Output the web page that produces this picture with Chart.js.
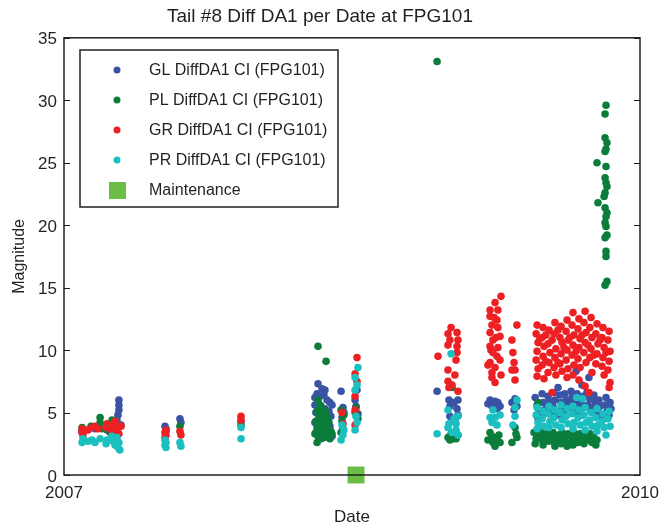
<!DOCTYPE html>
<html>
<head>
<meta charset="utf-8">
<script src="https://cdn.jsdelivr.net/npm/chart.js@4/dist/chart.umd.min.js"></script>
<style>
  body { margin: 0; background: #fff; }
  canvas { display: block; }
</style>
</head>
<body>
<canvas id="chart" width="662" height="531"></canvas>
<script>
// tick labels on the date axis
const xTicks = [2007, 2010];
const seriesNames = ['GL DiffDA1 CI (FPG101)', 'PL DiffDA1 CI (FPG101)', 'GR DiffDA1 CI (FPG101)', 'PR DiffDA1 CI (FPG101)', 'Maintenance'];

// [date as decimal year, magnitude]
const glPoints = [
  [2007.094,3.5],[2007.161,3.7],[2007.224,3.6],[2007.266,4.2],[2007.286,6.0],[2007.286,5.6],[2007.286,5.2],[2007.281,4.8],[2007.276,4.4],[2007.297,4.0],[2007.250,3.9],
  [2007.526,3.9],[2007.531,3.7],[2007.604,4.5],[2007.609,4.2],
  [2007.922,4.3],
  [2008.323,7.3],[2008.359,6.8],[2008.344,6.9],[2008.307,6.2],[2008.318,6.5],[2008.333,6.3],[2008.354,6.4],[2008.370,6.0],[2008.385,5.8],[2008.307,5.6],
  [2008.323,5.8],[2008.339,5.5],[2008.359,5.3],[2008.380,5.1],[2008.396,5.6],[2008.312,5.0],[2008.328,4.8],[2008.349,4.6],[2008.370,4.4],[2008.390,4.7],
  [2008.307,4.2],[2008.323,4.0],[2008.344,3.8],[2008.365,3.6],[2008.385,3.9],[2008.312,3.4],[2008.333,3.2],[2008.354,3.0],[2008.375,3.3],[2008.396,3.1],
  [2008.443,6.7],[2008.453,5.4],[2008.458,5.0],[2008.448,4.6],
  [2008.526,6.8],[2008.516,6.0],[2008.521,5.5],[2008.531,4.9],
  [2008.943,6.7],[2009.005,6.0],[2009.052,6.0],[2009.010,5.5],[2009.047,5.3],[2009.010,4.7],[2009.052,4.8],[2009.031,5.8],[2009.036,4.4],
  [2009.219,6.0],[2009.260,5.8],[2009.229,5.5],[2009.255,5.3],[2009.245,5.9],[2009.208,5.7],[2009.271,5.5],
  [2009.333,5.8],[2009.349,6.1],[2009.359,5.5],[2009.344,5.2],
  [2009.454,6.2],[2009.464,5.6],[2009.474,5.0],[2009.469,4.5],[2009.490,6.5],[2009.495,5.8],[2009.500,5.2],[2009.490,4.7],
  [2009.521,6.3],[2009.526,5.9],[2009.516,5.4],[2009.531,4.9],[2009.552,6.6],[2009.557,6.0],[2009.547,5.5],[2009.562,5.0],[2009.573,7.0],
  [2009.583,6.4],[2009.589,5.8],[2009.594,5.3],[2009.578,4.8],[2009.609,6.5],[2009.615,6.0],[2009.620,5.6],[2009.604,5.1],
  [2009.641,6.7],[2009.646,6.2],[2009.635,5.7],[2009.651,5.2],[2009.667,8.3],[2009.672,6.5],[2009.662,6.0],[2009.677,5.5],[2009.667,5.0],
  [2009.698,7.2],[2009.703,6.3],[2009.693,5.8],[2009.708,5.4],[2009.698,4.8],[2009.734,7.8],[2009.724,6.6],[2009.739,6.1],[2009.729,5.6],[2009.744,5.1],
  [2009.760,6.4],[2009.765,5.9],[2009.755,5.4],[2009.770,4.9],[2009.786,6.0],[2009.792,5.5],[2009.781,5.0],[2009.797,4.6],
  [2009.823,6.2],[2009.818,5.6],[2009.828,5.1],[2009.813,4.7],[2009.844,5.8],[2009.849,5.3],[2009.839,4.8]
];

const plPoints = [
  [2007.094,3.8],[2007.109,3.6],[2007.141,3.9],[2007.188,4.6],[2007.188,4.2],[2007.198,3.7],[2007.250,4.4],[2007.255,4.0],[2007.266,3.6],[2007.281,3.3],[2007.240,3.4],
  [2007.531,3.5],[2007.604,3.9],
  [2007.922,4.0],
  [2008.323,10.3],[2008.365,9.1],
  [2008.323,6.0],[2008.333,5.6],[2008.349,5.3],[2008.318,5.1],[2008.344,4.9],[2008.365,5.0],[2008.328,4.6],[2008.354,4.4],[2008.375,4.6],[2008.312,4.3],
  [2008.339,4.1],[2008.359,4.0],[2008.380,4.2],[2008.318,3.8],[2008.333,3.6],[2008.349,3.4],[2008.370,3.7],[2008.390,3.5],[2008.307,3.3],[2008.323,3.1],
  [2008.339,2.9],[2008.354,3.0],[2008.375,3.1],[2008.396,3.3],[2008.318,2.6],[2008.344,3.5],[2008.365,3.3],[2008.385,2.9],
  [2008.443,5.2],[2008.458,4.8],[2008.448,4.3],[2008.453,3.7],[2008.443,3.4],
  [2008.521,5.4],[2008.531,4.5],[2008.516,5.0],
  [2008.943,33.1],
  [2009.021,7.0],[2009.000,3.0],[2009.026,2.9],[2009.010,2.8],[2009.052,3.2],[2009.042,2.9],[2009.016,3.3],
  [2009.219,3.4],[2009.255,3.0],[2009.234,2.6],[2009.271,2.6],[2009.245,2.3],[2009.208,2.8],[2009.265,3.2],[2009.229,3.1],[2009.245,2.7],
  [2009.349,3.8],[2009.359,3.0],[2009.333,2.6],[2009.354,3.3],
  [2009.469,5.8],
  [2009.448,3.4],[2009.459,2.9],[2009.454,2.5],[2009.469,3.2],[2009.485,3.5],[2009.490,2.8],[2009.500,3.1],[2009.495,2.4],
  [2009.516,3.3],[2009.521,2.7],[2009.531,3.0],[2009.547,3.4],[2009.552,2.6],[2009.562,3.0],[2009.557,2.3],
  [2009.578,3.2],[2009.583,2.8],[2009.594,3.4],[2009.589,2.5],[2009.609,3.0],[2009.615,2.6],[2009.625,3.3],[2009.620,2.3],
  [2009.641,3.1],[2009.646,2.7],[2009.656,3.4],[2009.651,2.4],[2009.672,3.0],[2009.677,2.6],[2009.688,3.3],
  [2009.703,2.9],[2009.708,2.5],[2009.719,3.2],[2009.734,2.8],[2009.739,3.3],[2009.750,2.6],[2009.760,3.0],[2009.770,2.4],[2009.776,2.8],
  [2009.823,29.6],[2009.818,28.9],[2009.818,27.0],[2009.828,26.6],[2009.823,26.1],[2009.818,25.9],[2009.776,25.0],[2009.823,24.7],
  [2009.818,23.8],[2009.823,23.4],[2009.828,23.1],[2009.818,22.6],[2009.813,22.3],[2009.781,21.8],[2009.818,21.4],[2009.828,21.0],
  [2009.823,20.7],[2009.818,20.2],[2009.823,19.9],[2009.828,19.2],[2009.818,19.0],[2009.823,17.9],[2009.823,17.5],[2009.828,15.5],[2009.818,15.2]
];

const grPoints = [
  [2007.094,3.7],[2007.094,3.4],[2007.099,3.2],[2007.125,3.6],[2007.146,3.8],[2007.161,3.9],[2007.177,3.7],[2007.224,4.1],[2007.219,3.8],
  [2007.250,3.5],[2007.255,4.0],[2007.266,4.3],[2007.276,3.7],[2007.286,3.3],[2007.297,3.9],[2007.260,3.2],
  [2007.531,3.6],[2007.526,3.4],[2007.531,3.2],[2007.526,3.0],[2007.604,3.5],[2007.609,3.2],
  [2007.922,4.7],[2007.922,4.4],
  [2008.448,5.0],[2008.453,4.1],
  [2008.526,9.4],[2008.516,8.1],[2008.526,7.5],[2008.516,6.3],[2008.516,5.2],[2008.516,4.0],
  [2008.948,9.5],
  [2009.016,11.8],[2009.000,11.3],[2009.047,11.4],[2009.010,10.8],[2009.052,10.8],[2009.000,10.4],[2009.047,10.3],[2009.047,9.8],
  [2009.042,9.2],[2009.000,8.4],[2009.036,8.0],[2009.000,7.5],[2009.021,7.2],[2009.052,6.7],[2009.005,7.0],
  [2009.276,14.3],[2009.245,13.8],[2009.219,13.2],[2009.260,13.2],[2009.219,12.7],[2009.255,12.4],[2009.229,12.0],[2009.260,11.8],
  [2009.219,11.4],[2009.271,11.1],[2009.234,10.8],[2009.219,10.3],[2009.260,10.2],[2009.234,9.8],[2009.271,9.2],[2009.219,9.0],
  [2009.245,8.6],[2009.229,8.2],[2009.276,8.0],[2009.229,7.8],[2009.240,12.6],[2009.250,11.0],[2009.224,10.0],[2009.255,9.5],[2009.208,8.8],[2009.245,7.4],
  [2009.359,12.0],[2009.333,10.8],[2009.338,9.8],[2009.349,8.4],[2009.333,8.4],[2009.349,7.6],[2009.344,9.0],
  [2009.464,12.0],[2009.459,11.3],[2009.469,10.6],[2009.464,9.9],[2009.459,9.2],[2009.469,8.5],[2009.464,7.9],
  [2009.495,11.8],[2009.490,11.0],[2009.500,10.3],[2009.495,9.5],[2009.490,8.8],[2009.500,7.7],
  [2009.526,11.6],[2009.521,10.5],[2009.531,9.8],[2009.526,9.0],[2009.521,8.2],[2009.542,6.6],
  [2009.557,12.2],[2009.552,11.3],[2009.562,10.1],[2009.557,9.4],[2009.552,8.6],[2009.562,8.0],
  [2009.589,11.9],[2009.583,11.0],[2009.594,10.6],[2009.589,9.7],[2009.583,8.9],[2009.594,8.3],
  [2009.620,12.4],[2009.615,11.5],[2009.625,10.8],[2009.620,10.0],[2009.615,9.2],[2009.625,8.5],[2009.620,7.8],
  [2009.651,13.0],[2009.646,12.0],[2009.656,11.2],[2009.651,10.4],[2009.646,9.6],[2009.656,8.8],[2009.651,8.0],
  [2009.682,12.5],[2009.677,11.7],[2009.688,10.9],[2009.682,10.2],[2009.677,9.3],[2009.688,8.6],[2009.682,7.6],
  [2009.714,13.1],[2009.708,12.2],[2009.719,11.4],[2009.714,10.6],[2009.708,9.8],[2009.719,9.0],[2009.714,7.1],
  [2009.745,12.6],[2009.739,11.8],[2009.750,11.0],[2009.745,10.1],[2009.739,9.4],[2009.750,8.2],[2009.734,6.6],
  [2009.776,12.1],[2009.770,11.3],[2009.781,10.5],[2009.776,9.7],[2009.770,8.9],
  [2009.807,11.8],[2009.802,11.0],[2009.813,10.2],[2009.807,9.4],[2009.802,8.7],[2009.813,8.0],
  [2009.839,11.5],[2009.833,10.8],[2009.844,9.9],[2009.839,9.1],[2009.833,8.4],[2009.844,7.4],[2009.839,7.0],
  [2009.479,10.9],[2009.510,11.2],[2009.510,9.1],[2009.542,10.8],[2009.573,11.6],[2009.573,9.0],[2009.604,10.2],[2009.635,11.0],
  [2009.667,9.9],[2009.698,11.2],[2009.729,10.4],[2009.760,9.6],[2009.792,10.8],[2009.823,9.8]
];

const prPoints = [
  [2007.094,2.6],[2007.099,2.9],[2007.125,2.7],[2007.146,2.8],[2007.161,2.6],[2007.188,2.9],[2007.224,2.8],[2007.219,2.5],
  [2007.250,3.1],[2007.255,2.7],[2007.266,2.4],[2007.276,3.0],[2007.281,2.2],[2007.286,2.6],[2007.291,2.0],[2007.271,2.9],
  [2007.526,2.8],[2007.531,2.6],[2007.526,2.4],[2007.531,2.2],[2007.604,2.6],[2007.609,2.3],
  [2007.922,3.8],[2007.922,2.9],
  [2008.448,4.0],[2008.453,3.2],[2008.443,2.8],[2008.458,3.6],
  [2008.531,8.6],[2008.516,7.8],[2008.526,7.2],[2008.516,6.8],[2008.521,4.7],[2008.516,3.6],[2008.526,4.2],
  [2008.943,3.3],[2009.016,9.7],[2009.000,5.2],[2009.052,4.7],[2009.005,4.1],[2009.042,4.1],[2009.000,3.8],[2009.042,3.6],[2009.021,3.4],[2009.052,3.2],[2009.031,4.5],
  [2009.234,5.2],[2009.271,4.8],[2009.229,4.2],[2009.255,4.0],[2009.245,4.6],[2009.219,4.6],
  [2009.359,6.0],[2009.349,5.4],[2009.349,4.7],[2009.338,4.0],
  [2009.464,5.4],[2009.459,4.8],[2009.469,4.2],[2009.464,3.7],[2009.495,5.1],[2009.490,4.5],[2009.500,3.9],
  [2009.526,5.5],[2009.521,4.9],[2009.531,4.3],[2009.526,3.8],[2009.557,5.2],[2009.552,4.6],[2009.562,4.0],
  [2009.589,5.6],[2009.583,5.0],[2009.594,4.4],[2009.589,3.8],[2009.620,5.3],[2009.615,4.7],[2009.625,4.1],
  [2009.651,5.5],[2009.646,4.9],[2009.656,4.2],[2009.651,3.7],[2009.670,6.2],[2009.682,5.2],[2009.677,4.6],[2009.688,4.0],
  [2009.700,6.1],[2009.714,5.4],[2009.708,4.8],[2009.719,4.2],[2009.714,3.6],[2009.745,5.0],[2009.739,4.4],[2009.750,3.9],
  [2009.776,5.3],[2009.770,4.6],[2009.781,4.0],[2009.776,3.5],[2009.807,4.9],[2009.802,4.3],[2009.813,3.8],
  [2009.839,5.1],[2009.833,4.5],[2009.844,3.9],[2009.823,3.2]
];

const maintenancePoints = [[2008.521, 0]];

const FONT = "'Liberation Sans', Arial, sans-serif";
const INK = '#231f20';
const colors = ['#3a53a4', '#0b7d3b', '#ed2024', '#1bbfc0', '#6abd45'];

const frame = {
  id: 'frame',
  afterDraw(chart) {
    const { ctx, chartArea: a, scales } = chart;
    ctx.save();
    ctx.strokeStyle = INK;
    ctx.lineWidth = 1.5;
    ctx.strokeRect(a.left, a.top, a.right - a.left, a.bottom - a.top);
    // inward ticks on both sides
    ctx.lineWidth = 1;
    scales.y.ticks.forEach(t => {
      const py = Math.round(scales.y.getPixelForValue(t.value)) + 0.5;
      ctx.beginPath();
      ctx.moveTo(a.left, py); ctx.lineTo(a.left + 6, py);
      ctx.moveTo(a.right, py); ctx.lineTo(a.right - 6, py);
      ctx.stroke();
    });
    // legend box
    const bx = 80, by = 50, bw = 258, bh = 157;
    ctx.fillStyle = '#fff';
    ctx.fillRect(bx, by, bw, bh);
    ctx.lineWidth = 1.5;
    ctx.strokeRect(bx, by, bw, bh);
    ctx.font = '16px ' + FONT;
    ctx.textBaseline = 'middle';
    chart.data.datasets.forEach((ds, i) => {
      const y = by + 20 + i * 30;
      ctx.fillStyle = ds.backgroundColor;
      if (ds.pointStyle === 'rect') {
        ctx.fillRect(109, y - 8, 17, 17);
      } else {
        ctx.beginPath();
        ctx.arc(117, y, 3.5, 0, Math.PI * 2);
        ctx.fill();
      }
      ctx.fillStyle = INK;
      ctx.fillText(ds.label, 149, y + 1);
    });
    ctx.restore();
  }
};

const allPoints = [glPoints, plPoints, grPoints, prPoints];
const datasets = allPoints.map((pts, i) => ({
  label: seriesNames[i],
  data: pts,
  backgroundColor: colors[i],
  borderWidth: 0,
  pointRadius: 3.8,
  order: 5 - i
}));
datasets.push({
  label: seriesNames[4],
  data: maintenancePoints,
  backgroundColor: colors[4],
  borderWidth: 0,
  pointStyle: 'rect',
  pointRadius: 12,
  clip: false,
  order: 0
});

new Chart(document.getElementById('chart'), {
  type: 'scatter',
  data: { datasets },
  options: {
    responsive: false,
    animation: false,
    devicePixelRatio: 1,
    layout: { padding: { left: 0, right: 22, top: 0, bottom: 0 } },
    plugins: {
      legend: { display: false },
      tooltip: { enabled: false },
      title: {
        display: true,
        text: 'Tail #8 Diff DA1 per Date at FPG101',
        color: INK,
        font: { family: FONT, size: 19, weight: 'normal' },
        padding: { top: 5, bottom: 10 }
      }
    },
    scales: {
      x: {
        type: 'linear',
        min: 2007,
        max: 2010,
        afterBuildTicks: s => { s.ticks = xTicks.map(v => ({ value: v })); },
        afterFit: s => { s.height = 56; s.paddingLeft = 0; s.paddingRight = 0; },
        grid: { display: false, drawTicks: false },
        border: { display: false },
        ticks: { color: INK, font: { family: FONT, size: 17 }, padding: 8, maxRotation: 0, callback: v => String(v) },
        title: { display: true, text: 'Date', color: INK, font: { family: FONT, size: 17 }, padding: { top: 0, bottom: 3 } }
      },
      y: {
        min: 0,
        max: 35,
        afterFit: s => { s.width = 64; s.paddingTop = 0; s.paddingBottom = 0; },
        grid: { display: false, drawTicks: false },
        border: { display: false },
        ticks: { stepSize: 5, color: INK, font: { family: FONT, size: 17 }, padding: 7, labelOffset: 2 },
        title: { display: true, text: 'Magnitude', color: INK, font: { family: FONT, size: 16 }, padding: { top: 10, bottom: 0 } }
      }
    }
  },
  plugins: [frame]
});
</script>
</body>
</html>
